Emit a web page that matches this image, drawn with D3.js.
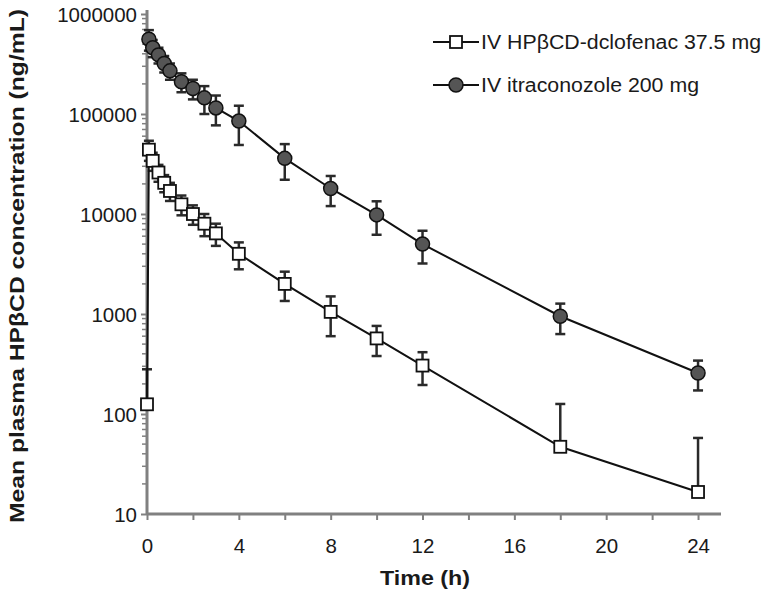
<!DOCTYPE html>
<html lang="en">
<head>
<meta charset="utf-8">
<script src="https://d3js.org/d3.v7.min.js"></script>
<style>
  body { margin: 0; background: #fff; }
  svg text { font-family: "Liberation Sans", Arial, sans-serif; fill: #1a1a1a; }
  .axis path, .axis line { stroke: #808080; }
</style>
</head>
<body>
<svg width="764" height="590"></svg>
<script>
// time points (h)
var timeHP = [0, 0.083, 0.25, 0.5, 0.75, 1, 1.5, 2, 2.5, 3, 4, 6, 8, 10, 12, 18, 24];
var timeIT = [0.083, 0.25, 0.5, 0.75, 1, 1.5, 2, 2.5, 3, 4, 6, 8, 10, 12, 18, 24];

// IV HPbCD-diclofenac 37.5 mg : mean and SD (ng/mL)
var meanHP = [125, 44000, 34000, 26000, 20500, 17000, 12500, 10000, 8000, 6400, 4000, 2000, 1050, 570, 305, 47, 16.6];
var sdHP   = [155, 10000, 7000, 5000, 4000, 3500, 2800, 2200, 2000, 1600, 1200, 650, 450, 190, 110, 79, 41];

// IV itraconazole 200 mg : mean and SD (ng/mL)
var meanIT = [560000, 460000, 390000, 320000, 270000, 210000, 180000, 145000, 115000, 85000, 36000, 18000, 9800, 5000, 950, 257];
var sdIT   = [130000, 90000, 70000, 60000, 50000, 45000, 40000, 45000, 38000, 36000, 14000, 6000, 3600, 1800, 320, 85];

var legendText = ["IV HP\u03b2CD-dclofenac 37.5 mg", "IV itraconozole 200 mg"];
var xTicks = d3.range(0, 25, 2);
var yTicks = [10, 100, 1000, 10000, 100000, 1000000];

var svg = d3.select("svg");

var x = d3.scaleLinear().domain([0, 25]).range([147, 721]);
var y = d3.scaleLog().domain([10, 1000000]).range([514, 14]);

function pts(t, m, s) {
  return t.map(function(d, i) { return {t: d, m: m[i], s: s[i]}; });
}
var hp = pts(timeHP, meanHP, sdHP);
var it = pts(timeIT, meanIT, sdIT);

// minor log ticks
var minor = [];
for (var e = 1; e < 6; e++) {
  for (var k = 2; k < 10; k++) minor.push(k * Math.pow(10, e));
}

svg.append("g")
  .attr("class", "axis")
  .selectAll("line.minor")
  .data(minor)
  .enter().append("line")
    .attr("x1", 142).attr("x2", 147)
    .attr("y1", function(d) { return y(d); })
    .attr("y2", function(d) { return y(d); })
    .style("stroke-width", 1.5);

var yAxis = svg.append("g")
  .attr("class", "axis")
  .attr("transform", "translate(147,0)")
  .call(d3.axisLeft(y).tickValues(yTicks).tickFormat(d3.format("d")).tickSize(6).tickSizeOuter(0));
yAxis.select(".domain").attr("d", "M0,514V10").style("stroke-width", 3);
yAxis.selectAll(".tick line").style("stroke-width", 2);
yAxis.selectAll("text").attr("x", -10).attr("dy", "0.36em")
  .style("font-size", "20.5px").style("fill", "#1a1a1a");

var xAxis = svg.append("g")
  .attr("class", "axis")
  .attr("transform", "translate(0,514)")
  .call(d3.axisBottom(x).tickValues(xTicks)
    .tickFormat(function(d) { return d % 4 === 0 ? d : ""; })
    .tickSize(6).tickSizeOuter(0));
xAxis.select(".domain").attr("d", "M147,0H721").style("stroke-width", 3);
xAxis.selectAll(".tick line").style("stroke-width", 2);
xAxis.selectAll("text").attr("y", 24).style("font-size", "20.5px").style("fill", "#1a1a1a");

// axis titles
svg.append("text")
  .attr("transform", "translate(24,266) rotate(-90)")
  .attr("text-anchor", "middle")
  .attr("textLength", 514)
  .attr("lengthAdjust", "spacingAndGlyphs")
  .style("font-size", "21px").style("font-weight", "bold")
  .text("Mean plasma HP\u03b2CD concentration (ng/mL)");

svg.append("text")
  .attr("x", 425).attr("y", 585)
  .attr("text-anchor", "middle")
  .attr("textLength", 90)
  .attr("lengthAdjust", "spacingAndGlyphs")
  .style("font-size", "21px").style("font-weight", "bold")
  .text("Time (h)");

var line = d3.line()
  .x(function(d) { return x(d.t); })
  .y(function(d) { return y(d.m); });

function errorBars(data) {
  var g = svg.append("g").style("stroke", "#2a2a2a").style("stroke-width", 2.5);
  data.forEach(function(d) {
    var hi = d.m + d.s, lo = d.m - d.s;
    var yHi = y(hi), yLo = lo > 10 ? y(lo) : y(d.m);
    var cx = x(d.t);
    g.append("line").attr("x1", cx).attr("x2", cx).attr("y1", yHi).attr("y2", yLo);
    g.append("line").attr("x1", cx - 5).attr("x2", cx + 5).attr("y1", yHi).attr("y2", yHi);
    if (lo > 10) g.append("line").attr("x1", cx - 5).attr("x2", cx + 5).attr("y1", yLo).attr("y2", yLo);
  });
}

errorBars(hp);
errorBars(it);

svg.append("path").datum(hp).attr("d", line)
  .attr("fill", "none").attr("stroke", "#111").attr("stroke-width", 2);
svg.append("path").datum(it).attr("d", line)
  .attr("fill", "none").attr("stroke", "#111").attr("stroke-width", 2);

svg.append("g").selectAll("rect")
  .data(hp).enter().append("rect")
    .attr("x", function(d) { return x(d.t) - 6; })
    .attr("y", function(d) { return y(d.m) - 6; })
    .attr("width", 12).attr("height", 12)
    .attr("fill", "#fff").attr("stroke", "#111").attr("stroke-width", 1.8);

svg.append("g").selectAll("circle")
  .data(it).enter().append("circle")
    .attr("cx", function(d) { return x(d.t); })
    .attr("cy", function(d) { return y(d.m); })
    .attr("r", 7)
    .attr("fill", "#555").attr("stroke", "#111").attr("stroke-width", 1.5);

// legend
var leg = svg.append("g");
[0, 1].forEach(function(i) {
  var ly = 42 + i * 43;
  leg.append("line").attr("x1", 433).attr("x2", 479).attr("y1", ly).attr("y2", ly)
    .attr("stroke", "#111").attr("stroke-width", 2);
  if (i === 0) {
    leg.append("rect").attr("x", 450).attr("y", ly - 6).attr("width", 12).attr("height", 12)
      .attr("fill", "#fff").attr("stroke", "#111").attr("stroke-width", 1.8);
  } else {
    leg.append("circle").attr("cx", 456).attr("cy", ly).attr("r", 7)
      .attr("fill", "#555").attr("stroke", "#111").attr("stroke-width", 1.5);
  }
  leg.append("text").attr("x", 481).attr("y", ly + 7)
    .attr("textLength", i === 0 ? 280 : 218)
    .attr("lengthAdjust", "spacingAndGlyphs")
    .style("font-size", "20px")
    .text(legendText[i]);
});
</script>
</body>
</html>
